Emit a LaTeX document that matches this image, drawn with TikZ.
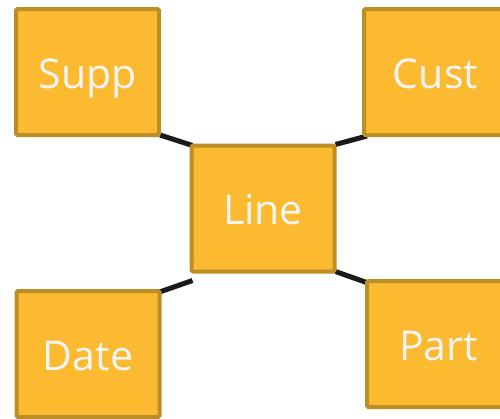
\documentclass[tikz,border=0pt]{standalone}
\usepackage{fontspec}
\setmainfont{Open Sans}
\usetikzlibrary{backgrounds,calc}
\definecolor{boxfill}{RGB}{251,186,48}
\definecolor{boxedge}{RGB}{190,142,38}
\definecolor{linkcol}{RGB}{26,26,26}
\tikzset{
  entity/.style={rectangle, draw=boxedge, fill=boxfill, line width=4pt,
    rounded corners=1.5pt, minimum width=143pt, minimum height=126pt,
    inner sep=0pt, text height=32pt, text depth=0pt,
    text=white!96!black, font=\fontsize{41}{41}\selectfont},
  link/.style={draw=linkcol, line width=5pt}
}
\begin{document}
\begin{tikzpicture}[x=1pt, y=-1pt]
  \useasboundingbox (0,0) rectangle (500,418);
  \node[entity] (supp) at (87.5,72) {Supp};
  \node[entity] (cust) at (435.5,72) {Cust};
  \node[entity] (line) at (263,208.5) {Line};
  \node[entity] (date) at (88,354) {Date};
  \node[entity] (part) at (438.5,344) {Part};
  \begin{pgfonlayer}{background}
    \draw[link] ($(supp.south east)+(-1,-2)$) -- ($(line.north west)+(3,2)$);
    \draw[link] ($(line.north east)+(-1,1)$) -- ($(cust.south west)+(5,-1)$);
    \draw[link] ($(date.north east)+(-2,3)$) -- ($(line.south west)+(3,7)$);
    \draw[link] ($(line.south east)+(-1,-2)$) -- ($(part.north west)+(3,4)$);
  \end{pgfonlayer}
\end{tikzpicture}
\end{document}
